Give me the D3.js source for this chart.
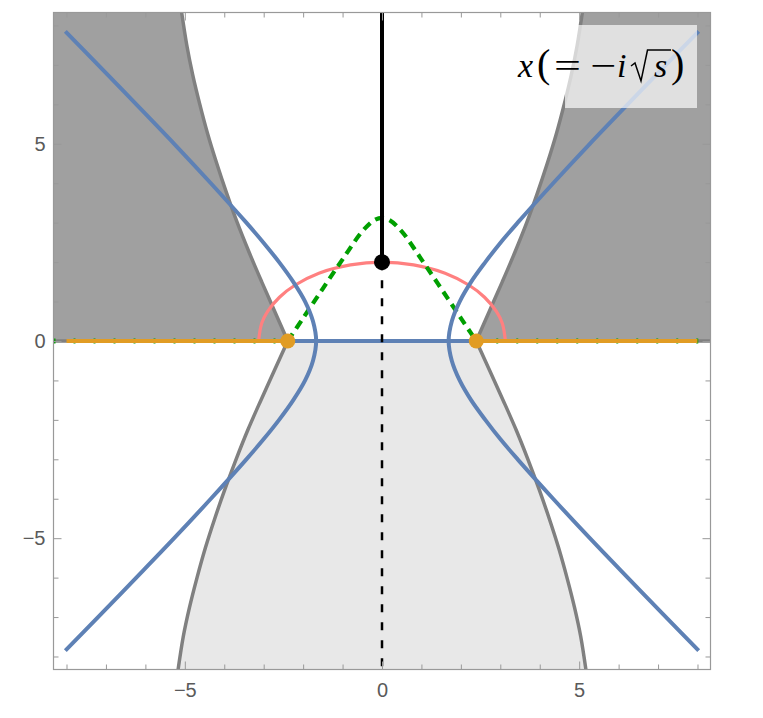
<!DOCTYPE html>
<html>
<head>
<meta charset="utf-8">
<script src="https://d3js.org/d3.v7.min.js"></script>
<style>
  body { margin: 0; background: #fff; }
  .tick text { font-family: "Liberation Sans", Arial, sans-serif; font-size: 20px; fill: #5a5a5a; }
</style>
</head>
<body>
<script>
  var width = 763;
  var height = 718;
  var lim = 8.33;

  // ticks
  var majorTicks = [-5, 0, 5];
  var minorTicks = [-8, -7, -6, -4, -3, -2, -1, 1, 2, 3, 4, 6, 7, 8];

  // blue curves (left and right branch) + the stretch on the real axis
  var blueLeft = [[-8.03, 7.85], [-7.2, 7.0], [-6.23, 6.0], [-5.27, 5.0], [-4.34, 4.0], [-3.44, 3.0],
    [-3.01, 2.5], [-2.61, 2.0], [-2.25, 1.5], [-1.95, 1.0], [-1.75, 0.5], [-1.67, 0],
    [-1.75, -0.5], [-1.95, -1.0], [-2.25, -1.5], [-2.61, -2.0], [-3.01, -2.5], [-3.44, -3.0],
    [-4.34, -4.0], [-5.27, -5.0], [-6.23, -6.0], [-7.2, -7.0], [-8.03, -7.85]];
  var blueRight = [[8.03, 7.85], [7.2, 7.0], [6.23, 6.0], [5.27, 5.0], [4.34, 4.0], [3.44, 3.0],
    [3.01, 2.5], [2.62, 2.0], [2.26, 1.5], [1.97, 1.0], [1.77, 0.5], [1.69, 0],
    [1.77, -0.5], [1.97, -1.0], [2.26, -1.5], [2.62, -2.0], [3.01, -2.5], [3.44, -3.0],
    [4.34, -4.0], [5.27, -5.0], [6.23, -6.0], [7.2, -7.0], [8.03, -7.85]];
  var blueAxis = [[-2.39, 0], [2.39, 0]];

  // gray region boundaries
  var grayUpperLeft = [[-2.39, 0], [-2.72, 0.75], [-3.05, 1.5], [-3.37, 2.25], [-3.67, 3.0], [-3.94, 3.75],
    [-4.19, 4.5], [-4.42, 5.25], [-4.62, 6.0], [-4.8, 6.75], [-4.95, 7.5], [-5.08, 8.33]];
  var grayUpperRight = [[2.39, 0], [2.72, 0.75], [3.05, 1.5], [3.37, 2.25], [3.67, 3.0], [3.94, 3.75],
    [4.19, 4.5], [4.42, 5.25], [4.62, 6.0], [4.8, 6.75], [4.95, 7.5], [5.08, 8.33]];
  var grayLowerLeft = [[-2.39, 0], [-2.73, -0.75], [-3.07, -1.5], [-3.4, -2.25], [-3.7, -3.0], [-3.98, -3.75],
    [-4.24, -4.5], [-4.48, -5.25], [-4.69, -6.0], [-4.88, -6.75], [-5.04, -7.5], [-5.17, -8.33]];
  var grayLowerRight = [[2.39, 0], [2.73, -0.75], [3.07, -1.5], [3.4, -2.25], [3.7, -3.0], [3.98, -3.75],
    [4.24, -4.5], [4.48, -5.25], [4.69, -6.0], [4.88, -6.75], [5.04, -7.5], [5.17, -8.33]];

  // red arc
  var redArc = [[-3.13, 0], [-3.05, 0.45], [-2.9, 0.75], [-2.6, 1.11], [-2.2, 1.42], [-1.6, 1.72], [-0.8, 1.93],
    [0, 2.0], [0.8, 1.93], [1.6, 1.72], [2.2, 1.42], [2.6, 1.11], [2.9, 0.75], [3.05, 0.45], [3.13, 0]];

  // green dashed tent
  var greenTent = [[-2.39, 0], [-2.0, 0.58], [-1.5, 1.33], [-1.0, 2.07], [-0.5, 2.78], [-0.2, 3.06], [0, 3.12],
    [0.2, 3.06], [0.5, 2.78], [1.0, 2.07], [1.5, 1.33], [2.0, 0.58], [2.39, 0]];

  // orange rays on the real axis and the saddle points
  var orangeLeft = [[-8.0, 0], [-2.39, 0]];
  var orangeRight = [[2.39, 0], [8.0, 0]];
  var saddles = [[-2.39, 0], [2.39, 0]];

  // black branch point and its cut
  var blackPoint = [0, 2.0];

  var svg = d3.select("body")
    .append("svg")
    .attr("width", width)
    .attr("height", height);

  var x = d3.scaleLinear().domain([-lim, lim]).range([53.5, 710.5]);
  var y = d3.scaleLinear().domain([-lim, lim]).range([669.5, 12.5]);

  var smooth = d3.line()
    .x(function(d) { return x(d[0]); })
    .y(function(d) { return y(d[1]); })
    .curve(d3.curveCatmullRom);
  var straight = d3.line()
    .x(function(d) { return x(d[0]); })
    .y(function(d) { return y(d[1]); });

  svg.append("clipPath").attr("id", "plot")
    .append("rect")
    .attr("x", x(-lim)).attr("y", y(lim))
    .attr("width", x(lim) - x(-lim)).attr("height", y(-lim) - y(lim));

  var g = svg.append("g").attr("clip-path", "url(#plot)");

  // dark gray regions (upper half, outside the curves)
  g.append("path")
    .attr("d", smooth(grayUpperLeft) + "L" + x(-lim - 1) + "," + y(lim + 1) + "L" + x(-lim - 1) + "," + y(0) + "Z")
    .style("fill", "#a0a0a0");
  g.append("path")
    .attr("d", smooth(grayUpperRight) + "L" + x(lim + 1) + "," + y(lim + 1) + "L" + x(lim + 1) + "," + y(0) + "Z")
    .style("fill", "#a0a0a0");

  // light gray region (lower half, between the curves)
  g.append("path")
    .attr("d", smooth(grayLowerLeft) + smooth(grayLowerRight.slice().reverse()).replace("M", "L") + "Z")
    .style("fill", "#e8e8e8");

  [grayUpperLeft, grayUpperRight, grayLowerLeft, grayLowerRight].forEach(function(c) {
    g.append("path")
      .attr("d", smooth(c))
      .style("fill", "none").style("stroke", "#808080").style("stroke-width", 3.5);
  });
  g.append("path")
    .attr("d", straight([[-lim, 0], [-2.39, 0]]) + straight([[2.39, 0], [lim, 0]]))
    .style("stroke", "#808080").style("stroke-width", 3.5);

  // red arc
  g.append("path")
    .attr("d", smooth(redArc))
    .style("fill", "none").style("stroke", "#ff8080").style("stroke-width", 3.2);

  // green dashed
  g.append("path")
    .attr("d", straight([[-lim, 0], [-2.39, 0]]) + straight([[2.39, 0], [lim, 0]]))
    .style("stroke", "#009f00").style("stroke-width", 5).style("stroke-dasharray", "2,18");
  g.append("path")
    .attr("d", smooth(greenTent))
    .style("fill", "none").style("stroke", "#009f00").style("stroke-width", 4.2)
    .style("stroke-dasharray", "9,6");

  // blue curves
  [blueLeft, blueRight].forEach(function(c) {
    g.append("path")
      .attr("d", smooth(c))
      .style("fill", "none").style("stroke", "#5e81b5").style("stroke-width", 4);
  });

  // orange rays
  [orangeLeft, orangeRight].forEach(function(c) {
    g.append("path")
      .attr("d", straight(c))
      .style("stroke", "#e19c24").style("stroke-width", 4);
  });
  g.append("path")
    .attr("d", straight(blueAxis))
    .style("stroke", "#5e81b5").style("stroke-width", 4);

  // black cut
  g.append("path")
    .attr("d", straight([blackPoint, [0, lim]]))
    .style("stroke", "#000").style("stroke-width", 4);
  g.append("path")
    .attr("d", straight([blackPoint, [0, -lim]]))
    .style("stroke", "#000").style("stroke-width", 2.5).style("stroke-dasharray", "8,10");

  g.selectAll("circle.saddle")
    .data(saddles)
    .enter().append("circle")
    .attr("class", "saddle")
    .attr("cx", function(d) { return x(d[0]); })
    .attr("cy", function(d) { return y(d[1]); })
    .attr("r", 7.5)
    .style("fill", "#e19c24");
  g.append("circle")
    .attr("cx", x(blackPoint[0])).attr("cy", y(blackPoint[1]))
    .attr("r", 8)
    .style("fill", "#000");

  // frame and ticks
  function addAxis(axis, size, tx, ty, labels) {
    var a = svg.append("g")
      .attr("transform", "translate(" + tx + "," + ty + ")")
      .call(axis.tickSize(size));
    a.select(".domain").remove();
    a.selectAll(".tick line").style("stroke", "#999");
    if (!labels) a.selectAll(".tick text").remove();
    return a;
  }
  var fmt = function(d) { return d < 0 ? "\u2212" + Math.abs(d) : String(d); };

  addAxis(d3.axisBottom(x).tickValues(majorTicks).tickFormat(fmt).tickPadding(13), -8, 0, y(-lim), true);
  addAxis(d3.axisBottom(x).tickValues(minorTicks), -5, 0, y(-lim), false);
  addAxis(d3.axisTop(x).tickValues(majorTicks), -8, 0, y(lim), false);
  addAxis(d3.axisTop(x).tickValues(minorTicks), -5, 0, y(lim), false);
  addAxis(d3.axisLeft(y).tickValues(majorTicks).tickFormat(fmt).tickPadding(8), -8, x(-lim), 0, true);
  addAxis(d3.axisLeft(y).tickValues(minorTicks), -5, x(-lim), 0, false);
  addAxis(d3.axisRight(y).tickValues(majorTicks), -8, x(lim), 0, false);
  addAxis(d3.axisRight(y).tickValues(minorTicks), -5, x(lim), 0, false);

  svg.append("rect")
    .attr("x", x(-lim)).attr("y", y(lim))
    .attr("width", x(lim) - x(-lim)).attr("height", y(-lim) - y(lim))
    .style("fill", "none").style("stroke", "#999").style("stroke-width", 1.2);

  // legend
  svg.append("rect")
    .attr("x", 565).attr("y", 25).attr("width", 132).attr("height", 83)
    .style("fill", "#fff").style("fill-opacity", 0.68);

  var leg = svg.append("g").style("font-family", "'Liberation Serif', 'DejaVu Serif', serif").style("fill", "#000");
  var base = 77;
  var parts = [
    { t: "x", at: 518, italic: true, size: 34 },
    { t: "(", at: 537, size: 40 },
    { t: "=", at: 554, size: 34, len: 27 },
    { t: "\u2212", at: 590, size: 34, len: 26 },
    { t: "i", at: 617, italic: true, size: 34 },
    { t: "s", at: 654, italic: true, size: 34 },
    { t: ")", at: 671, size: 40 }
  ];
  parts.forEach(function(p) {
    var t = leg.append("text")
      .attr("x", p.at).attr("y", base)
      .style("font-size", p.size + "px")
      .style("font-style", p.italic ? "italic" : "normal")
      .text(p.t);
    if (p.len) t.attr("textLength", p.len).attr("lengthAdjust", "spacingAndGlyphs");
  });
  // radical sign over s
  leg.append("path")
    .attr("d", "M631," + (base - 11) + "L635," + (base - 14) + "L641," + (base + 4) +
      "L647.5," + (base - 27) + "L671," + (base - 27))
    .style("fill", "none").style("stroke", "#000").style("stroke-width", 1.5)
    .style("stroke-linejoin", "miter");
</script>
</body>
</html>
